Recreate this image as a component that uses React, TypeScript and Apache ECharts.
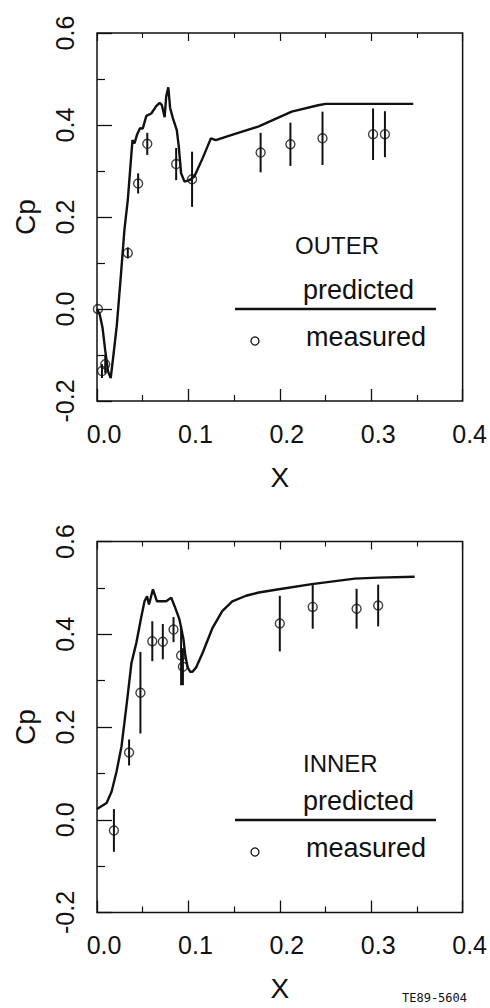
import React, { useEffect, useRef } from "react";
import * as echarts from "echarts";

// ---------- data ----------
const xTicks = [0, 0.1, 0.2, 0.3, 0.4];
const cpTicks = [-0.2, 0, 0.2, 0.4, 0.6];

// OUTER predicted Cp vs X
const outerPredicted: number[][] = [
  [0, 0.0], [0.003, -0.012], [0.006, -0.04], [0.009, -0.09], [0.012, -0.135],
  [0.015, -0.15], [0.018, -0.1], [0.0217, -0.035], [0.026, 0.07], [0.03, 0.172],
  [0.0337, 0.237], [0.0388, 0.367], [0.041, 0.36], [0.044, 0.38], [0.047, 0.393],
  [0.05, 0.392], [0.054, 0.42], [0.0594, 0.425], [0.0648, 0.441], [0.0685, 0.448],
  [0.071, 0.443], [0.074, 0.417], [0.0757, 0.462], [0.078, 0.482], [0.08, 0.437],
  [0.083, 0.415], [0.0873, 0.389], [0.0895, 0.353], [0.092, 0.295], [0.0957, 0.277],
  [0.101, 0.28], [0.1065, 0.288], [0.1156, 0.328], [0.1246, 0.371], [0.13, 0.367],
  [0.145, 0.377], [0.177, 0.397], [0.213, 0.429], [0.242, 0.443], [0.25, 0.446],
  [0.346, 0.446],
];
// OUTER measured
const outerMeasuredX = [0.001, 0.0055, 0.009, 0.0337, 0.045, 0.055, 0.0866, 0.104, 0.179, 0.2116, 0.2467, 0.302, 0.315];
const outerMeasuredCp = [0.0, -0.135, -0.12, 0.122, 0.273, 0.359, 0.315, 0.282, 0.34, 0.358, 0.371, 0.38, 0.38];
const outerMeasuredErr = [0, 0.015, 0.02, 0.012, 0.022, 0.024, 0.035, 0.06, 0.043, 0.047, 0.058, 0.056, 0.05];

// INNER predicted Cp vs X
const innerPredicted: number[][] = [
  [0, 0.023], [0.0105, 0.036], [0.016, 0.061], [0.0214, 0.104], [0.0268, 0.158],
  [0.0322, 0.245], [0.0377, 0.338], [0.0431, 0.382], [0.0486, 0.439], [0.052, 0.471],
  [0.0547, 0.482], [0.0569, 0.464], [0.0612, 0.497], [0.0656, 0.471], [0.0757, 0.471],
  [0.0812, 0.479], [0.0848, 0.461], [0.0902, 0.432], [0.0946, 0.389], [0.0967, 0.353],
  [0.0993, 0.328], [0.102, 0.319], [0.1045, 0.319], [0.1083, 0.328], [0.1156, 0.36],
  [0.126, 0.412], [0.137, 0.45], [0.148, 0.471], [0.163, 0.483], [0.177, 0.49],
  [0.199, 0.497], [0.235, 0.508], [0.282, 0.52], [0.3076, 0.522], [0.3475, 0.524],
];
// INNER measured
const innerMeasuredX = [0.0185, 0.0351, 0.0475, 0.0605, 0.072, 0.0837, 0.092, 0.094, 0.2, 0.236, 0.284, 0.3076];
const innerMeasuredCp = [-0.023, 0.145, 0.274, 0.385, 0.384, 0.41, 0.354, 0.33, 0.423, 0.459, 0.455, 0.462];
const innerMeasuredErr = [0.046, 0.028, 0.088, 0.043, 0.038, 0.027, 0.064, 0.04, 0.06, 0.047, 0.043, 0.045];

// ---------- styles ----------
const INK = "#111";
const FONT = "'Liberation Sans', Arial, sans-serif";

function fmt(v: number) {
  if (Math.abs(v) < 1e-9) return "0.0";
  return v.toFixed(1);
}

function xAxes(gridIndex: number) {
  return [
    {
      gridIndex,
      type: "value",
      position: "bottom",
      min: xTicks[0],
      max: xTicks[xTicks.length - 1],
      interval: 0.1,
      axisLine: { show: false, onZero: false },
      axisTick: { show: true, inside: true, length: 12, lineStyle: { color: INK, width: 1.3 } },
      minorTick: { show: true, splitNumber: 2, length: 6, lineStyle: { color: INK, width: 1.2 } },
      splitLine: { show: false },
      axisLabel: {
        show: true,
        fontSize: 25,
        color: INK,
        fontFamily: FONT,
        margin: 20,
        padding: [0, 0, 0, 14],
        showMinLabel: true,
        showMaxLabel: true,
        formatter: (v: number) => fmt(v),
      },
      name: "X",
      nameLocation: "middle",
      nameGap: 62,
      nameTextStyle: { fontSize: 28, color: INK, fontFamily: FONT },
    },
    {
      gridIndex,
      type: "value",
      position: "top",
      min: xTicks[0],
      max: xTicks[xTicks.length - 1],
      interval: 0.1,
      axisLine: { show: false, onZero: false },
      axisTick: { show: true, inside: true, length: 8, lineStyle: { color: INK, width: 1.2 } },
      minorTick: { show: true, splitNumber: 2, length: 5, lineStyle: { color: INK, width: 1.1 } },
      splitLine: { show: false },
      axisLabel: { show: false },
    },
  ];
}

function yAxis(gridIndex: number) {
  return {
    gridIndex,
    type: "value",
    min: cpTicks[0],
    max: cpTicks[cpTicks.length - 1],
    interval: 0.2,
    axisLine: { show: false, onZero: false },
    axisTick: { show: true, inside: true, length: 15, lineStyle: { color: INK, width: 1.3 } },
    minorTick: { show: true, splitNumber: 2, length: 8, lineStyle: { color: INK, width: 1.2 } },
    splitLine: { show: false },
    axisLabel: {
      show: true,
      rotate: 90,
      fontSize: 25,
      color: INK,
      fontFamily: FONT,
      margin: 20,
      showMinLabel: true,
      showMaxLabel: true,
      formatter: (v: number) => fmt(v),
    },
    name: "Cp",
    nameLocation: "middle",
    nameRotate: 90,
    nameGap: 58,
    nameTextStyle: { fontSize: 28, color: INK, fontFamily: FONT },
  };
}

function zip3(a: number[], b: number[], c: number[]) {
  return a.map((v, i) => [v, b[i], c[i]]);
}

function seriesFor(gridIndex: number, predicted: number[][], mx: number[], mcp: number[], merr: number[]) {
  const xi = gridIndex * 2;
  const measured = zip3(mx, mcp, merr);
  return [
    {
      type: "line",
      xAxisIndex: xi,
      yAxisIndex: gridIndex,
      data: predicted,
      showSymbol: false,
      symbol: "none",
      smooth: false,
      lineStyle: { color: INK, width: 2.4 },
      z: 3,
    },
    {
      type: "custom",
      xAxisIndex: xi,
      yAxisIndex: gridIndex,
      data: measured,
      encode: { x: 0, y: 1 },
      renderItem: (params: any, api: any) => {
        const x = api.value(0);
        const y = api.value(1);
        const e = api.value(2);
        if (!e) return null;
        const p1 = api.coord([x, y + e]);
        const p2 = api.coord([x, y - e]);
        return {
          type: "line",
          shape: { x1: p1[0], y1: p1[1], x2: p2[0], y2: p2[1] },
          style: { stroke: INK, lineWidth: 2 },
        };
      },
      z: 4,
    },
    {
      type: "scatter",
      xAxisIndex: xi,
      yAxisIndex: gridIndex,
      data: measured.map((d) => [d[0], d[1]]),
      symbol: "circle",
      symbolSize: 9,
      itemStyle: { color: "rgba(255,255,255,0)", borderColor: INK, borderWidth: 1.4 },
      z: 5,
    },
  ];
}

function legend(label: string, labelX: number, labelY: number, lineY: number) {
  return [
    {
      type: "text",
      left: labelX,
      top: labelY - 13,
      style: { text: label, fontSize: 24, fill: INK, fontFamily: FONT },
    },
    {
      type: "text",
      left: 303,
      top: lineY - 33,
      style: { text: "predicted", fontSize: 27, fill: INK, fontFamily: FONT },
    },
    {
      type: "line",
      shape: { x1: 235, y1: lineY, x2: 436, y2: lineY },
      style: { stroke: INK, lineWidth: 2.5 },
    },
    {
      type: "circle",
      shape: { cx: 255, cy: lineY + 32, r: 4 },
      style: { fill: "#fff", stroke: INK, lineWidth: 1.3 },
    },
    {
      type: "text",
      left: 306,
      top: lineY + 14,
      style: { text: "measured", fontSize: 27, fill: INK, fontFamily: FONT },
    },
  ];
}

export default function App() {
  const ref = useRef<HTMLDivElement>(null);
  useEffect(() => {
    if (!ref.current) return;
    const chart = echarts.init(ref.current, undefined, { renderer: "svg" });
    chart.setOption({
      animation: false,
      backgroundColor: "#fff",
      grid: [
        { left: 97, top: 33, width: 368, height: 368, show: true, borderColor: INK, borderWidth: 1.5, backgroundColor: "transparent" },
        { left: 97, top: 541.5, width: 368, height: 371, show: true, borderColor: INK, borderWidth: 1.5, backgroundColor: "transparent" },
      ],
      xAxis: [...xAxes(0), ...xAxes(1)],
      yAxis: [yAxis(0), yAxis(1)],
      series: [
        ...seriesFor(0, outerPredicted, outerMeasuredX, outerMeasuredCp, outerMeasuredErr),
        ...seriesFor(1, innerPredicted, innerMeasuredX, innerMeasuredCp, innerMeasuredErr),
      ],
      graphic: [
        ...legend("OUTER", 295, 246, 309),
        ...legend("INNER", 303, 764, 820),
        {
          type: "text",
          left: 402,
          top: 992,
          style: { text: "TE89-5604", fontSize: 12, fill: INK, fontFamily: "'DejaVu Sans Mono', monospace" },
        },
      ],
    });
    return () => chart.dispose();
  }, []);
  return (
    <div
      ref={ref}
      style={{ position: "absolute", left: 0, top: 0, width: 490, height: 1008, background: "#fff" }}
    />
  );
}
